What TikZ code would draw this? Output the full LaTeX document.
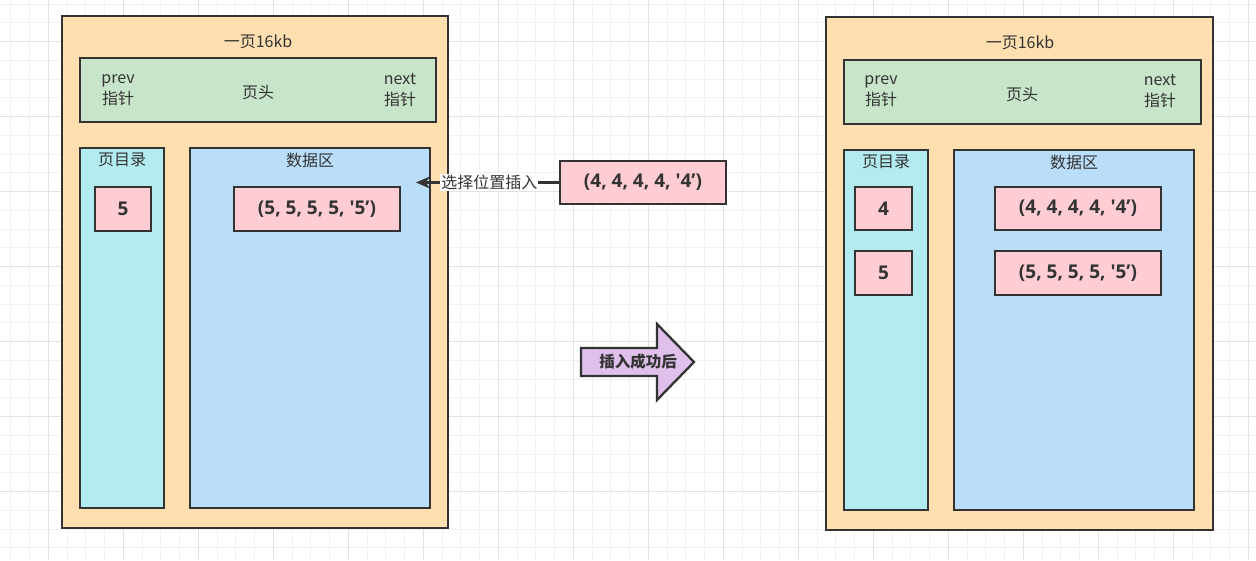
\documentclass[tikz,border=0pt]{standalone}
\usepackage{fontspec}
\setmainfont{Noto Sans CJK SC}
\newfontfamily\latinf{Open Sans}
\usetikzlibrary{arrows.meta}
\definecolor{linec}{HTML}{333333}
\definecolor{txtc}{HTML}{333333}
\definecolor{pagef}{HTML}{FFDFB0}
\definecolor{headf}{HTML}{C8E5C9}
\definecolor{dirf}{HTML}{B2EBF0}
\definecolor{dataf}{HTML}{BADEFA}
\definecolor{recf}{HTML}{FFCDD3}
\definecolor{arrf}{HTML}{DFC0EA}
\definecolor{gminor}{HTML}{F1F1F1}
\definecolor{gmajor}{HTML}{E2E2E2}
\newcommand{\recfour}{(4, 4, 4, 4, \textquotesingle4’)}
\newcommand{\recfive}{(5, 5, 5, 5, \textquotesingle5’)}
\begin{document}
\begin{tikzpicture}[x=1pt,y=-1pt,
  box/.style={draw=linec, line width=2.3pt, rectangle, inner sep=0pt},
  pagebox/.style={box, fill=pagef},
  headbox/.style={box, fill=headf},
  dirbox/.style={box, fill=dirf},
  databox/.style={box, fill=dataf},
  recbox/.style={box, fill=recf, font=\latinf\bfseries\fontsize{19}{22}\selectfont, text=txtc},
  lbl/.style={font=\fontsize{16}{21}\selectfont, text=txtc, inner sep=0pt, align=center},
  conn/.style={draw=linec, line width=2.3pt, -{Stealth[length=14pt,width=12pt]}},
]
\useasboundingbox (0,0) rectangle (1256,560);
\fill[white] (0,0) rectangle (1256,560);
\foreach \i in {0,...,66} {\draw[gminor, line width=1pt] ({10.8+18.75*\i},0) -- ({10.8+18.75*\i},560);}
\foreach \i in {0,...,30} {\draw[gminor, line width=1pt] (0,{4.2+18.75*\i}) -- (1256,{4.2+18.75*\i});}
\foreach \i in {0,...,16} {\draw[gmajor, line width=1pt] ({48.3+75*\i},0) -- ({48.3+75*\i},560);}
\foreach \i in {0,...,7} {\draw[gmajor, line width=1pt] (0,{41.7+75*\i}) -- (1256,{41.7+75*\i});}

% ---------- left page ----------
\node[pagebox, minimum width=386pt, minimum height=512pt] (pageL) at (255,272) {};
\node[lbl] (titleL) at (258,41.5) {一页16kb};
\node[headbox, minimum width=356pt, minimum height=64pt] (headL) at (258,90) {};
\node[lbl] (prevL) at (118,90) {prev\\指针};
\node[lbl] (hdL) at (258,93) {页头};
\node[lbl] (nextL) at (400,90) {next\\指针};
\node[dirbox, minimum width=84pt, minimum height=360pt] (dirL) at (122,328) {};
\node[lbl] (dirtL) at (122,160) {页目录};
\node[databox, minimum width=240pt, minimum height=360pt] (dataL) at (310,328) {};
\node[lbl] (datatL) at (310,160) {数据区};
\node[recbox, minimum width=56pt, minimum height=44pt] (k5L) at (123,209) {5};
\node[recbox, minimum width=166pt, minimum height=44pt] (r5L) at (317,209) {\recfive};

% ---------- insert ----------
\node[recbox, minimum width=166pt, minimum height=43pt] (ins) at (643,182.5) {\recfour};
\coordinate (tip) at (416,182.5);
\draw[conn] (ins.west) -- (tip) node[midway, xshift=2pt, fill=white, inner sep=1pt, font=\fontsize{16}{20}\selectfont, text=txtc] (insl) {选择位置插入};

% ---------- big arrow ----------
\draw[draw=linec, line width=2.3pt, fill=arrf, line join=miter]
  (581,348) -- (657,348) -- (657,324) -- (694,362) -- (657,400) -- (657,376) -- (581,376) -- cycle;
\node[font=\fontsize{15.5}{18}\selectfont\bfseries, text=txtc, inner sep=0pt] (after) at (638,362) {插入成功后};

% ---------- right page ----------
\node[pagebox, minimum width=387pt, minimum height=513pt] (pageR) at (1019.5,273.5) {};
\node[lbl] (titleR) at (1020,42.5) {一页16kb};
\node[headbox, minimum width=357pt, minimum height=64pt] (headR) at (1022.5,92) {};
\node[lbl] (prevR) at (881,91) {prev\\指针};
\node[lbl] (hdR) at (1022,95) {页头};
\node[lbl] (nextR) at (1160,91) {next\\指针};
\node[dirbox, minimum width=84pt, minimum height=360pt] (dirR) at (886,330) {};
\node[lbl] (dirtR) at (886,162) {页目录};
\node[databox, minimum width=240pt, minimum height=360pt] (dataR) at (1074,330) {};
\node[lbl] (datatR) at (1074,162) {数据区};
\node[recbox, minimum width=57pt, minimum height=43pt] (k4R) at (883.5,208.5) {4};
\node[recbox, minimum width=57pt, minimum height=44pt] (k5R) at (883.5,273) {5};
\node[recbox, minimum width=166pt, minimum height=43pt] (r4R) at (1078,208.5) {\recfour};
\node[recbox, minimum width=166pt, minimum height=44pt] (r5R) at (1078,273) {\recfive};
\end{tikzpicture}
\end{document}
